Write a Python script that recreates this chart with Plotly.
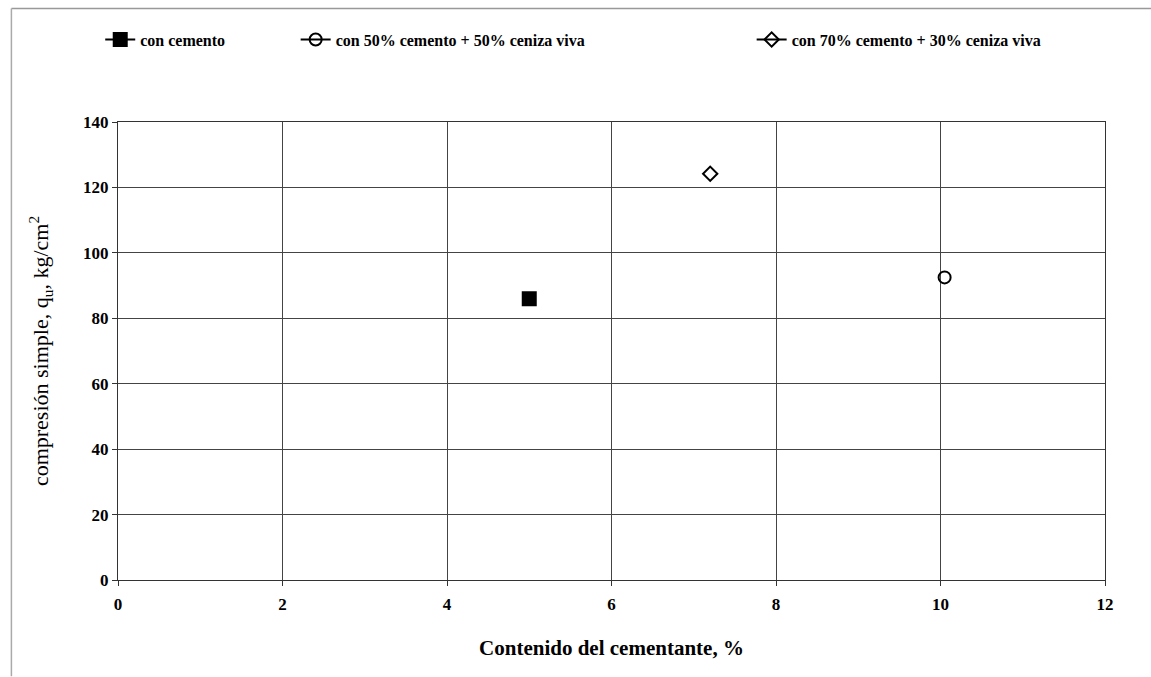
import plotly.graph_objects as go

# Contenido del cementante (%) y resistencia a compresión simple (kg/cm²)
series_names = [
    "con cemento",
    "con 50% cemento + 50% ceniza viva",
    "con 70% cemento + 30% ceniza viva",
]
cementante = [5.0, 10.05, 7.2]
qu = [86.0, 92.5, 124.2]
symbols = ["square", "circle-open", "diamond-open"]
marker_sizes = [13, 12, 11]

x_ticks = [0, 2, 4, 6, 8, 10, 12]
y_ticks = [0, 20, 40, 60, 80, 100, 120, 140]

SERIF = "Liberation Serif, Times New Roman, serif"

fig = go.Figure()
legend_ids = ["legend", "legend2", "legend3"]
for name, xv, yv, sym, sz, lg in zip(series_names, cementante, qu, symbols, marker_sizes, legend_ids):
    fig.add_trace(go.Scatter(
        x=[xv], y=[yv], name=name, mode="lines+markers",
        line=dict(color="black", width=2),
        marker=dict(symbol=sym, size=sz, color="black",
                    line=dict(color="black", width=2)),
        legend=lg,
    ))

legend_style = dict(
    orientation="h", yanchor="middle", y=1.18, xanchor="left",
    font=dict(family=SERIF, size=16, color="black", weight="bold"),
    bgcolor="rgba(0,0,0,0)",
)

fig.update_layout(
    width=1151, height=677,
    margin=dict(l=118, r=46, t=122, b=97),
    paper_bgcolor="white", plot_bgcolor="white",
    showlegend=True,
    legend=dict(legend_style, x=-0.018),
    legend2=dict(legend_style, x=0.18),
    legend3=dict(legend_style, x=0.642),
    xaxis=dict(
        range=[0, 12], tickvals=x_ticks, showgrid=True,
        gridcolor="#444", gridwidth=1,
        showline=True, linecolor="#333", linewidth=1, mirror=True,
        ticks="outside", ticklen=5, tickcolor="#333",
        zeroline=False, ticklabelstandoff=4,
        tickfont=dict(family=SERIF, size=17, color="black", weight="bold"),
        title=dict(text="Contenido del cementante, %", standoff=26,
                   font=dict(family=SERIF, size=21, color="black", weight="bold")),
    ),
    yaxis=dict(
        range=[0, 140], tickvals=y_ticks, showgrid=True,
        gridcolor="#444", gridwidth=1,
        showline=True, linecolor="#333", linewidth=1, mirror=True,
        ticks="outside", ticklen=5, tickcolor="#333",
        zeroline=False,
        tickfont=dict(family=SERIF, size=17, color="black", weight="bold"),
        title=dict(text="compresión simple, q<sub>u</sub>, kg/cm<sup>2</sup>", standoff=28,
                   font=dict(family=SERIF, size=22, color="black")),
    ),
    shapes=[
        dict(type="line", xref="paper", yref="paper", x0=-0.108, x1=1.06, y0=1.248, y1=1.248,
             line=dict(color="#999", width=1.5)),
        dict(type="line", xref="paper", yref="paper", x0=-0.108, x1=-0.108, y0=1.248, y1=-0.21,
             line=dict(color="#aaa", width=1.5)),
    ],
)

fig.write_html("out.html")
